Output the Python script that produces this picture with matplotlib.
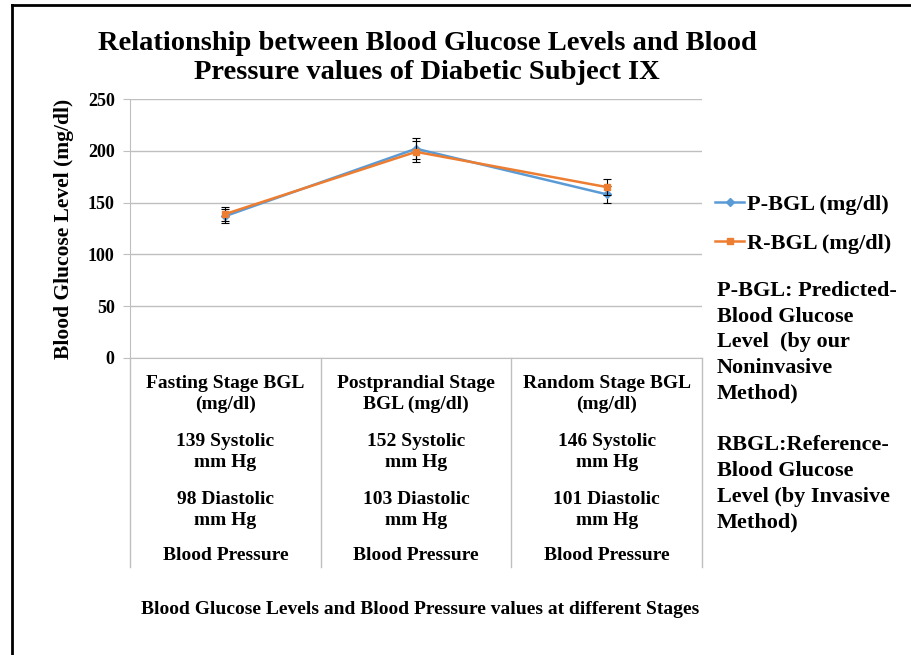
import matplotlib
matplotlib.use('Agg')
import matplotlib.pyplot as plt
from matplotlib.lines import Line2D

# data
stages = ['Fasting Stage BGL\n(mg/dl)', 'Postprandial Stage\nBGL (mg/dl)', 'Random Stage BGL\n(mg/dl)']
systolic = [139, 152, 146]
diastolic = [98, 103, 101]
p_bgl = [137, 202, 158]
r_bgl = [139, 199, 165]
p_err = [7, 10, 8]
r_err = [7, 10, 8]
y_ticks = [0, 50, 100, 150, 200, 250]

plt.rcParams['font.family'] = ['Liberation Serif', 'DejaVu Serif']
plt.rcParams['font.weight'] = 'bold'

W, H = 911, 655
fig = plt.figure(figsize=(W / 100, H / 100), dpi=100)
ax = fig.add_axes([130 / W, 1 - 358 / H, (702 - 130) / W, (358 - 99) / H])

grid_col = '#BFBFBF'
blue = '#5B9BD5'
orange = '#ED7D31'
x = [i + 0.5 for i in range(len(stages))]

ax.errorbar(x, p_bgl, yerr=p_err, color=blue, marker='D', markersize=4,
            lw=1.8, ecolor='black', elinewidth=0.8, capsize=3, capthick=0.8, zorder=3)
ax.errorbar(x, r_bgl, yerr=r_err, color=orange, marker='s', markersize=5,
            lw=1.8, ecolor='black', elinewidth=0.8, capsize=3, capthick=0.8, zorder=4)

ax.set_xlim(0, len(stages))
ax.set_ylim(0, 250)
ax.set_yticks(y_ticks)
ax.set_yticklabels([str(v) for v in y_ticks], fontsize=13, fontweight='bold')
ax.set_xticks([])
ax.yaxis.grid(True, color=grid_col, lw=1)
ax.set_axisbelow(True)
for s in ['top', 'right']:
    ax.spines[s].set_visible(False)
for s in ['left', 'bottom']:
    ax.spines[s].set_color(grid_col)
ax.tick_params(axis='y', colors=grid_col, length=5, labelcolor='black', pad=6)
ax.set_ylabel('Blood Glucose Level (mg/dl)', fontsize=15.5, fontweight='bold', labelpad=10)

# category table under the axis
tr = ax.get_xaxis_transform()
tab_bottom = -(567 - 358) / 259
for i in range(len(stages) + 1):
    ax.plot([i, i], [0, tab_bottom], color=grid_col, lw=1, transform=tr, clip_on=False)

def yf(py):
    return (358 - py) / 259

for i, xc in enumerate(x):
    ax.text(xc, yf(394), stages[i], transform=tr, ha='center', va='center',
            fontsize=14, fontweight='bold', linespacing=1.3)
    ax.text(xc, yf(452), f'{systolic[i]} Systolic\nmm Hg', transform=tr, ha='center',
            va='center', fontsize=14, fontweight='bold', linespacing=1.3)
    ax.text(xc, yf(510), f'{diastolic[i]} Diastolic\nmm Hg', transform=tr, ha='center',
            va='center', fontsize=14, fontweight='bold', linespacing=1.3)
    ax.text(xc, yf(556), 'Blood Pressure', transform=tr, ha='center', va='center',
            fontsize=14, fontweight='bold')

fig.text(420 / W, 1 - 610 / H, 'Blood Glucose Levels and Blood Pressure values at different Stages',
         ha='center', va='center', fontsize=14, fontweight='bold')

fig.text(427 / W, 1 - 58 / H,
         'Relationship between Blood Glucose Levels and Blood\nPressure values of Diabetic Subject IX',
         ha='center', va='center', fontsize=20.5, fontweight='bold', linespacing=1.2)

handles = [Line2D([], [], color=blue, marker='D', markersize=4, lw=1.8),
           Line2D([], [], color=orange, marker='s', markersize=5, lw=1.8)]
ax.legend(handles, ['P-BGL (mg/dl)', 'R-BGL (mg/dl)'], loc='upper left',
          bbox_to_anchor=(704 / W, 1 - 183 / H), bbox_transform=fig.transFigure,
          frameon=False, prop={'family': 'Liberation Serif', 'weight': 'bold', 'size': 16},
          handlelength=1.3, handletextpad=0.15, labelspacing=0.85, borderpad=0)

fig.text(717 / W, 1 - 281 / H,
         'P-BGL: Predicted-\nBlood Glucose\nLevel  (by our\nNoninvasive\nMethod)\n\n'
         'RBGL:Reference-\nBlood Glucose\nLevel (by Invasive\nMethod)',
         ha='left', va='top', fontsize=16, fontweight='bold', linespacing=1.38)

# outer frame (left and top edges visible)
fig.add_artist(Line2D([12 / W, 12 / W], [0, 1 - 5 / H], color='black', lw=2, transform=fig.transFigure))
fig.add_artist(Line2D([12 / W, 1], [1 - 5 / H, 1 - 5 / H], color='black', lw=2, transform=fig.transFigure))

fig.savefig('out.png', dpi=100)
